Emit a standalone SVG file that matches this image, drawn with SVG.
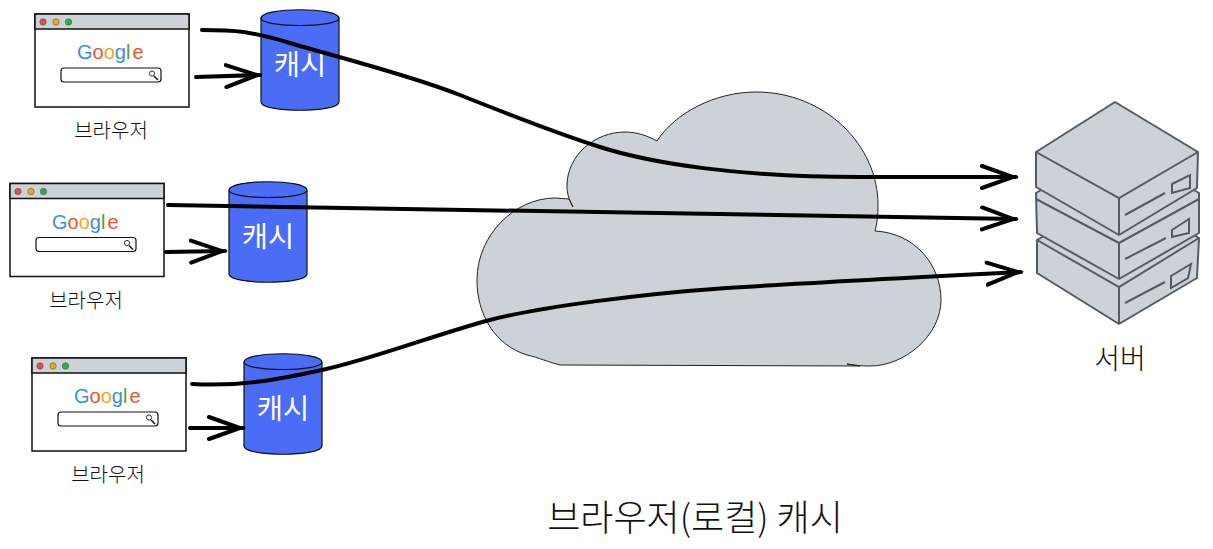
<svg xmlns="http://www.w3.org/2000/svg" width="1213" height="549" viewBox="0 0 1213 549">
<style>
text{font-family:"Noto Sans CJK KR","Liberation Sans",sans-serif;font-weight:300}
.win{fill:#fff;stroke:#111;stroke-width:1.5}
.bar{fill:#cdd2d9;stroke:#111;stroke-width:1.5}
.lbl{font-size:20px;fill:#111;text-anchor:middle}
.cy{fill:#4a6cf7;stroke:#111;stroke-width:1.2}
.cyt{font-size:28.5px;fill:#fff;text-anchor:middle;font-weight:400}
.g{font-family:"Liberation Sans",sans-serif;font-size:20px;font-weight:400}
.srv{fill:#cdd2d9;stroke:#555a62;stroke-width:2;stroke-linejoin:round}
.srvl{fill:none;stroke:#555a62;stroke-width:2}
.con{fill:none;stroke:#000;stroke-width:4;stroke-linecap:round;marker-end:url(#open)}
</style>
<defs>
<marker id="open" markerUnits="userSpaceOnUse" markerWidth="40" markerHeight="30" refX="36" refY="14" orient="auto" viewBox="0 0 40 30">
<path d="M2 3L33 14L2 25" fill="none" stroke="#000" stroke-width="4" stroke-linecap="round"/>
</marker>
</defs>
<g id="cloud"><path d="M560 365C545 361 540 358 527 355C495 345 477 315 477 280C477 235 515 198 555 198L569 199L573 207C568 198 567 192 567 186C567 155 595 132 625 132C637 132 648 136 657 141C675 113 715 92 756 92C825 92 878 145 878 205C878 215 877 224 875 231C915 233 941 265 941 300C941 335 905 366 870 366C860 366 852 365 847 364L860 366Z" fill="#cdd2d9" stroke="#222" stroke-width="1"/></g>
<g id="browser1" transform="translate(35 14)">
<rect class="win" width="154" height="93"/><rect class="bar" width="154" height="15"/>
<circle cx="8" cy="8" r="3.2" fill="#ea4c4c" stroke="#444" stroke-width=".5"/><circle cx="21" cy="8" r="3.2" fill="#f0a818" stroke="#444" stroke-width=".5"/><circle cx="33.500" cy="8" r="3.2" fill="#2fae4a" stroke="#444" stroke-width=".5"/>
<text class="g" x="42" y="45"><tspan fill="#3b8fe0">G</tspan><tspan fill="#e2582a">o</tspan><tspan fill="#f2a818">o</tspan><tspan fill="#3b8fe0">g</tspan><tspan fill="#5aa02c">l</tspan><tspan fill="#e2582a" dx="2">e</tspan></text>
<rect x="26" y="54" width="100" height="14" rx="3" fill="#fff" stroke="#111" stroke-width="1.2"/>
<circle cx="117" cy="59.500" r="2.600" fill="none" stroke="#333"/><path d="M119 62L123 66" stroke="#111" stroke-width="1.500"/>
</g>
<text class="lbl" x="111" y="138">브라우저</text>
<g id="browser2" transform="translate(10 183.500)">
<rect class="win" width="154" height="93"/><rect class="bar" width="154" height="15"/>
<circle cx="8" cy="8" r="3.2" fill="#ea4c4c" stroke="#444" stroke-width=".5"/><circle cx="21" cy="8" r="3.2" fill="#f0a818" stroke="#444" stroke-width=".5"/><circle cx="33.500" cy="8" r="3.2" fill="#2fae4a" stroke="#444" stroke-width=".5"/>
<text class="g" x="42" y="45"><tspan fill="#3b8fe0">G</tspan><tspan fill="#e2582a">o</tspan><tspan fill="#f2a818">o</tspan><tspan fill="#3b8fe0">g</tspan><tspan fill="#5aa02c">l</tspan><tspan fill="#e2582a" dx="2">e</tspan></text>
<rect x="26" y="54" width="100" height="14" rx="3" fill="#fff" stroke="#111" stroke-width="1.2"/>
<circle cx="117" cy="59.500" r="2.600" fill="none" stroke="#333"/><path d="M119 62L123 66" stroke="#111" stroke-width="1.500"/>
</g>
<text class="lbl" x="86" y="308">브라우저</text>
<g id="browser3" transform="translate(32 358)">
<rect class="win" width="154" height="93"/><rect class="bar" width="154" height="15"/>
<circle cx="8" cy="8" r="3.2" fill="#ea4c4c" stroke="#444" stroke-width=".5"/><circle cx="21" cy="8" r="3.2" fill="#f0a818" stroke="#444" stroke-width=".5"/><circle cx="33.500" cy="8" r="3.2" fill="#2fae4a" stroke="#444" stroke-width=".5"/>
<text class="g" x="42" y="45"><tspan fill="#3b8fe0">G</tspan><tspan fill="#e2582a">o</tspan><tspan fill="#f2a818">o</tspan><tspan fill="#3b8fe0">g</tspan><tspan fill="#5aa02c">l</tspan><tspan fill="#e2582a" dx="2">e</tspan></text>
<rect x="26" y="54" width="100" height="14" rx="3" fill="#fff" stroke="#111" stroke-width="1.2"/>
<circle cx="117" cy="59.500" r="2.600" fill="none" stroke="#333"/><path d="M119 62L123 66" stroke="#111" stroke-width="1.500"/>
</g>
<text class="lbl" x="108" y="482">브라우저</text>
<g id="cache1" transform="translate(261 10)">
<path class="cy" d="M0 8C0 -3 78 -3 78 8V92C78 103 0 103 0 92Z"/><path class="cy" fill="none" d="M0 8C0 18 78 18 78 8"/>
<text class="cyt" x="39" y="65">캐시</text>
</g>
<g id="cache2" transform="translate(229 182)">
<path class="cy" d="M0 8C0 -3 78 -3 78 8V92C78 103 0 103 0 92Z"/><path class="cy" fill="none" d="M0 8C0 18 78 18 78 8"/>
<text class="cyt" x="39" y="65">캐시</text>
</g>
<g id="cache3" transform="translate(244 354)">
<path class="cy" d="M0 8C0 -3 78 -3 78 8V92C78 103 0 103 0 92Z"/><path class="cy" fill="none" d="M0 8C0 18 78 18 78 8"/>
<text class="cyt" x="39" y="65">캐시</text>
</g>
<g id="server">
<path class="srv" d="M1037 240L1119 192L1199 238L1197 278L1119 324L1037 273Z"/><path class="srvl" d="M1037 240L1119 287L1199 238M1119 287V324M1125 303L1165 282"/><path class="srvl" d="M1171 276L1191 264L1188 278L1171 288Z"/>
<path class="srv" d="M1036 193L1119 145L1199 193L1199 233L1119 279L1037 233Z"/><path class="srvl" d="M1036 199L1119 243L1199 199M1119 243V279M1125 259L1166 238"/><path class="srvl" d="M1172 230L1189 219V233L1172 237Z"/>
<path class="srv" d="M1036 152L1115 102L1198 152L1197 188L1119 235L1036 187Z"/><path class="srvl" d="M1036 152L1119 198L1198 152M1119 198V235M1125 215L1165 193"/><path class="srvl" d="M1172 184L1190 175V188L1172 193Z"/>
</g>
<g id="connectors">
<path class="con" d="M196 77L260 75"/>
<path class="con" d="M166 252L225 251"/>
<path class="con" d="M190 428L243 428"/>
<path class="con" d="M202 30C235 30 250 31 290 43C330 55 410 75 460 95C510 115 555 133 600 147C650 163 740 178 873 177L1016 177"/>
<path class="con" d="M168 205L1016 219"/>
<path class="con" d="M192 384C240 387 280 379 322 370C370 360 440 333 490 320C540 307 640 294 727 288C800 283 900 278 1021 272"/>
</g>
<text x="1120" y="369" font-size="28" fill="#111" text-anchor="middle">서버</text>
<text x="695" y="531" font-size="36" fill="#111" text-anchor="middle">브라우저(로컬) 캐시</text>
</svg>
